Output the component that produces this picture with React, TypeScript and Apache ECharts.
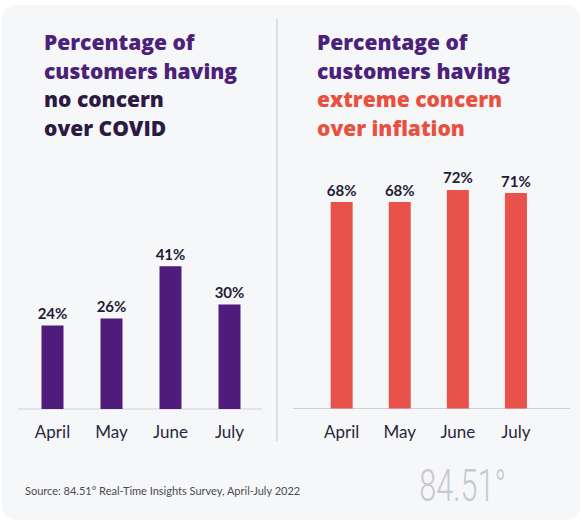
import React, { useEffect, useRef } from "react";
import * as echarts from "echarts";

const months = ["April", "May", "June", "July"];
const noConcernCovid = [24, 26, 41, 30];
const extremeConcernInflation = [68, 68, 72, 71];

const leftTitle = ["Percentage of", "customers having", "no concern", "over COVID"];
const rightTitle = ["Percentage of", "customers having", "extreme concern", "over inflation"];
const sourceText = "Source: 84.51° Real-Time Insights Survey, April-July 2022";
const logoText = "84.51°";

const PURPLE = "#4b2179";
const DARK = "#2c1a45";
const RED = "#e8503f";
const FONT = "Lato, 'Noto Sans', sans-serif";
const TITLE_FONT = "'Open Sans', Lato, sans-serif";

export default function App() {
  const ref = useRef<HTMLDivElement>(null);
  useEffect(() => {
    if (!ref.current) return;
    const chart = echarts.init(ref.current, null, { renderer: "svg" });
    const t = { fontSize: 21, fontWeight: 800, fontFamily: TITLE_FONT, lineHeight: 28.5 };
    const titleRich = {
      a: { ...t, color: PURPLE },
      b: { ...t, color: DARK },
      r: { ...t, color: RED },
    };
    const xAxisCommon = {
      type: "category" as const,
      data: months,
      axisLine: { show: false },
      axisTick: { show: false },
      axisLabel: { color: "#2a2838", fontSize: 17, fontFamily: FONT, margin: 14 },
    };
    const yAxisCommon = {
      type: "value" as const,
      min: 0,
      max: 100,
      show: false,
      splitLine: { show: false },
    };
    const labelCommon = {
      show: true,
      position: "top" as const,
      distance: 5,
      formatter: "{c}%",
      color: "#1f1d36",
      fontSize: 15,
      fontWeight: "bold" as const,
      fontFamily: FONT,
    };
    chart.setOption({
      animation: false,
      backgroundColor: "#ffffff",
      title: [
        {
          text: [`{a|${leftTitle[0]}}`, `{a|${leftTitle[1]}}`, `{b|${leftTitle[2]}}`, `{b|${leftTitle[3]}}`].join("\n"),
          left: 44,
          top: 28,
          padding: 0,
          textStyle: { rich: titleRich },
        },
        {
          text: [`{a|${rightTitle[0]}}`, `{a|${rightTitle[1]}}`, `{r|${rightTitle[2]}}`, `{r|${rightTitle[3]}}`].join("\n"),
          left: 317,
          top: 28,
          padding: 0,
          textStyle: { rich: titleRich },
        },
      ],
      graphic: [
        {
          type: "rect",
          z: -10,
          shape: { x: 2, y: 5, width: 578, height: 515, r: 14 },
          style: { fill: "#f6f7f9" },
          silent: true,
        },
        {
          type: "line",
          shape: { x1: 277, y1: 19, x2: 277, y2: 441 },
          style: { stroke: "#d6d7dc", lineWidth: 1.5 },
          silent: true,
        },
        {
          type: "line",
          shape: { x1: 18, y1: 409, x2: 262, y2: 409 },
          style: { stroke: "#d0d1d7", lineWidth: 1.2 },
          silent: true,
        },
        {
          type: "line",
          shape: { x1: 293, y1: 408.5, x2: 570, y2: 408.5 },
          style: { stroke: "#d0d1d7", lineWidth: 1.2 },
          silent: true,
        },
        {
          type: "text",
          x: 25,
          y: 490,
          style: {
            text: sourceText,
            fill: "#4a4a52",
            fontSize: 11,
            fontFamily: FONT,
            verticalAlign: "middle",
          },
          silent: true,
        },
        {
          type: "text",
          x: 506,
          y: 485,
          scaleX: 0.68,
          style: {
            text: logoText,
            fill: "#c8c9ce",
            fontSize: 45,
            fontWeight: 300,
            fontFamily: "Roboto, sans-serif",
            align: "right",
            verticalAlign: "middle",
          },
          silent: true,
        },
      ],
      grid: [
        { left: 23, width: 236, top: 61, height: 348 },
        { left: 312.6, width: 232.4, top: 105, height: 303.5 },
      ],
      xAxis: [
        { ...xAxisCommon, gridIndex: 0 },
        { ...xAxisCommon, gridIndex: 1 },
      ],
      yAxis: [
        { ...yAxisCommon, gridIndex: 0 },
        { ...yAxisCommon, gridIndex: 1 },
      ],
      series: [
        {
          type: "bar",
          xAxisIndex: 0,
          yAxisIndex: 0,
          data: noConcernCovid,
          barWidth: 22,
          itemStyle: { color: "#4f1c7c" },
          label: labelCommon,
        },
        {
          type: "bar",
          xAxisIndex: 1,
          yAxisIndex: 1,
          data: extremeConcernInflation,
          barWidth: 22,
          itemStyle: { color: "#e8524a" },
          label: labelCommon,
        },
      ],
    });
    return () => chart.dispose();
  }, []);
  return (
    <div
      ref={ref}
      style={{ position: "fixed", left: 0, top: 0, width: 582, height: 521 }}
    />
  );
}
